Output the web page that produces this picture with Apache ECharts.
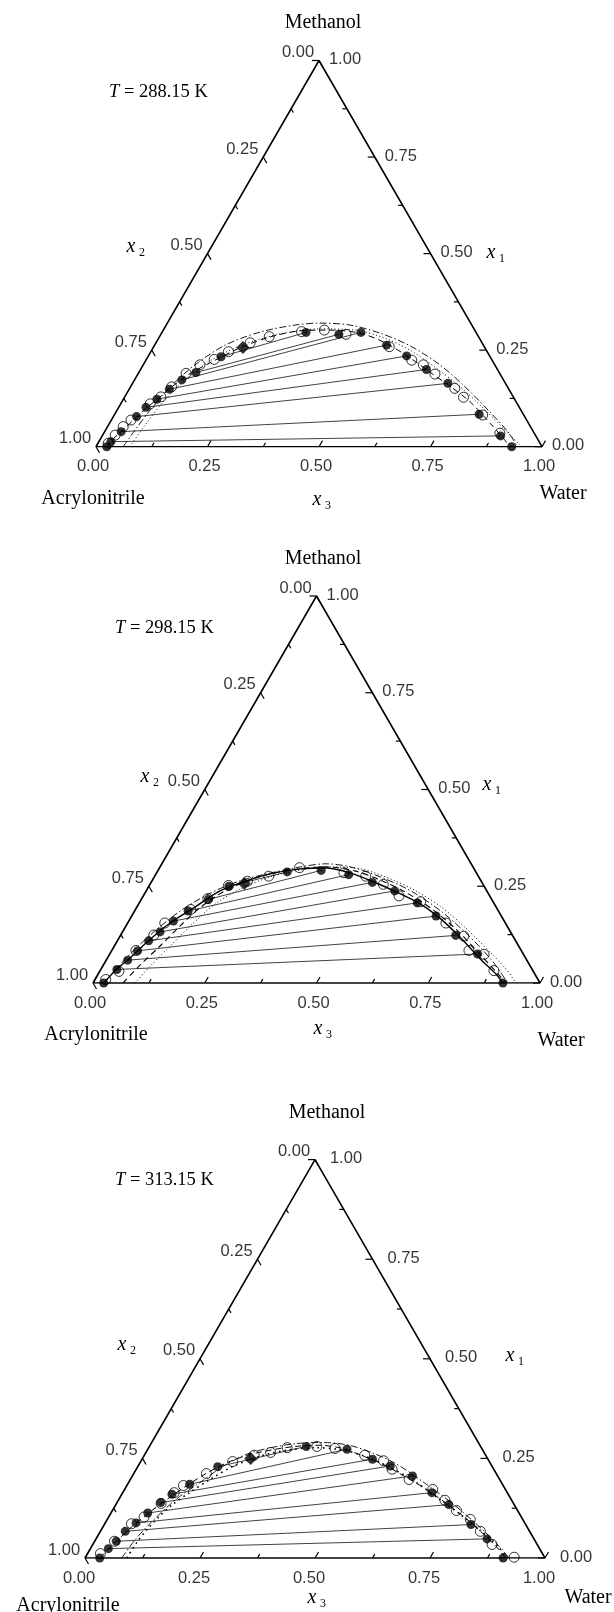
<!DOCTYPE html>
<html><head><meta charset="utf-8">
<script src="https://cdn.jsdelivr.net/npm/echarts@6.0.0/dist/echarts.min.js"></script>
<style>html,body{margin:0;padding:0;background:#fff}#c{width:614px;height:1612px}</style>
</head><body><div id="c"></div>
<script>
// ---- data: compositions as [x1 (methanol), x3 (water)], x2 = 1 - x1 - x3 ----
const tickValues = [0, 0.125, 0.25, 0.375, 0.5, 0.625, 0.75, 0.875, 1];
const labelValues = [0, 0.25, 0.5, 0.75, 1];
const tickLabels = ['0.00', '0.25', '0.50', '0.75', '1.00'];
const temperatures = ['288.15', '298.15', '313.15'];
const vertexNames = ['Methanol', 'Acrylonitrile', 'Water'];

// T = 288.15 K
const p1TieLeft = [[0,0.024],[0.013,0.027],[0.039,0.037],[0.078,0.052],[0.102,0.061],[0.123,0.075],[0.149,0.090],[0.173,0.106],[0.192,0.128],[0.233,0.164]];
const p1TieRight = [[0,0.932],[0.028,0.893],[0.084,0.817],[0.164,0.707],[0.200,0.641],[0.235,0.579],[0.263,0.520],[0.296,0.446],[0.291,0.399],[0.296,0.323]];
const p1Plait = [[0.257,0.201]];
const p1Calc = [[0.009,0.023],[0.030,0.028],[0.052,0.035],[0.069,0.044],[0.111,0.066],[0.129,0.081],[0.155,0.092],[0.190,0.107],[0.212,0.127],[0.226,0.152],[0.246,0.174],[0.269,0.211],[0.285,0.246],[0.298,0.312],[0.302,0.361],[0.291,0.415],[0.259,0.528],[0.224,0.596],[0.212,0.628],[0.188,0.666],[0.151,0.729],[0.128,0.760],[0.082,0.826],[0.035,0.888]];
const p1Dash = [[0,0.022],[0.017,0.027],[0.048,0.041],[0.085,0.056],[0.129,0.079],[0.181,0.109],[0.217,0.147],[0.256,0.195],[0.284,0.248],[0.300,0.307],[0.302,0.374],[0.294,0.445],[0.269,0.514],[0.230,0.589],[0.193,0.652],[0.157,0.715],[0.116,0.781],[0.061,0.853],[0.023,0.901],[0,0.928]];
const p1Dot = [[0,0.076],[0.056,0.082],[0.121,0.094],[0.183,0.119],[0.230,0.152],[0.266,0.201],[0.292,0.267],[0.305,0.350],[0.302,0.430],[0.281,0.507],[0.250,0.579],[0.206,0.657],[0.155,0.739],[0.095,0.825],[0.043,0.896],[0,0.955]];
const p1DashDot = [[0,0.061],[0.043,0.066],[0.095,0.074],[0.155,0.089],[0.212,0.116],[0.263,0.158],[0.297,0.220],[0.315,0.289],[0.320,0.342],[0.315,0.412],[0.294,0.490],[0.261,0.574],[0.212,0.665],[0.155,0.750],[0.090,0.838],[0.038,0.905],[0,0.945]];

// T = 298.15 K
const p2TieLeft = [[0,0.024],[0.035,0.036],[0.059,0.048],[0.083,0.058],[0.109,0.070],[0.132,0.084],[0.160,0.100],[0.186,0.120],[0.216,0.150],[0.250,0.179]];
const p2TieRight = [[0,0.917],[0.075,0.823],[0.123,0.750],[0.173,0.681],[0.207,0.622],[0.238,0.556],[0.260,0.495],[0.280,0.432],[0.291,0.365],[0.287,0.291]];
const p2Plait = [[0.257,0.210]];
const p2Calc = [[0.009,0.024],[0.030,0.043],[0.084,0.054],[0.124,0.074],[0.155,0.083],[0.190,0.124],[0.218,0.148],[0.252,0.177],[0.263,0.214],[0.276,0.255],[0.298,0.313],[0.285,0.419],[0.276,0.472],[0.255,0.522],[0.225,0.572],[0.210,0.628],[0.155,0.712],[0.121,0.769],[0.084,0.799],[0.074,0.838],[0.032,0.881]];
const p2Solid = [[0,0.024],[0.0355,0.035],[0.064,0.050],[0.108,0.069],[0.155,0.095],[0.196,0.130],[0.238,0.165],[0.263,0.209],[0.282,0.255],[0.295,0.317],[0.297,0.372],[0.284,0.434],[0.259,0.503],[0.230,0.573],[0.204,0.631],[0.165,0.696],[0.116,0.765],[0.061,0.837],[0.023,0.890],[0,0.917]];
const p2Dash = [[0,0.067],[0.046,0.082],[0.095,0.102],[0.147,0.121],[0.194,0.142],[0.238,0.176],[0.271,0.227],[0.292,0.295],[0.300,0.370],[0.289,0.443],[0.266,0.510],[0.235,0.581],[0.194,0.658],[0.140,0.741],[0.077,0.825],[0.030,0.886],[0,0.924]];
const p2Dot = [[0,0.094],[0.043,0.106],[0.095,0.125],[0.147,0.144],[0.204,0.171],[0.243,0.208],[0.274,0.259],[0.292,0.318],[0.300,0.381],[0.295,0.451],[0.269,0.531],[0.238,0.603],[0.197,0.680],[0.142,0.763],[0.077,0.852],[0.036,0.906],[0,0.946]];
const p2DashDot = [[0,0.024],[0.041,0.035],[0.087,0.050],[0.134,0.071],[0.186,0.102],[0.232,0.146],[0.264,0.197],[0.284,0.254],[0.300,0.314],[0.308,0.366],[0.300,0.426],[0.274,0.506],[0.238,0.592],[0.186,0.685],[0.129,0.770],[0.061,0.860],[0,0.928]];

// T = 313.15 K
const p3TieLeft = [[0,0.032],[0.0235,0.039],[0.042,0.047],[0.067,0.054],[0.088,0.067],[0.113,0.080],[0.139,0.095],[0.160,0.109],[0.185,0.135],[0.229,0.174]];
const p3TieRight = [[0,0.909],[0.048,0.850],[0.084,0.797],[0.134,0.724],[0.164,0.672],[0.206,0.609],[0.231,0.548],[0.248,0.501],[0.273,0.433],[0.280,0.341]];
const p3Plait = [[0.250,0.235]];
const p3Calc = [[0.011,0.028],[0.042,0.043],[0.086,0.058],[0.103,0.077],[0.137,0.097],[0.164,0.112],[0.182,0.123],[0.212,0.158],[0.242,0.200],[0.258,0.239],[0.265,0.271],[0.277,0.301],[0.280,0.364],[0.275,0.406],[0.258,0.479],[0.244,0.527],[0.223,0.556],[0.197,0.606],[0.172,0.670],[0.145,0.710],[0.119,0.748],[0.097,0.789],[0.067,0.826],[0.034,0.868],[0.002,0.932]];
const p3Dash = [[0,0.033],[0.021,0.039],[0.046,0.049],[0.078,0.062],[0.113,0.082],[0.145,0.103],[0.181,0.130],[0.213,0.158],[0.239,0.189],[0.258,0.224],[0.271,0.269],[0.280,0.316],[0.283,0.367],[0.275,0.423],[0.256,0.476],[0.235,0.531],[0.206,0.590],[0.176,0.649],[0.140,0.712],[0.101,0.776],[0.063,0.832],[0.029,0.879],[0,0.915]];
const p3DashDot = [[0,0.080],[0.046,0.086],[0.092,0.100],[0.147,0.124],[0.189,0.155],[0.231,0.186],[0.261,0.222],[0.277,0.266],[0.287,0.313],[0.290,0.371],[0.283,0.433],[0.263,0.495],[0.235,0.561],[0.189,0.643],[0.139,0.727],[0.080,0.816],[0.029,0.886],[0,0.922]];
const p3Dot = [[0,0.091],[0.038,0.093],[0.071,0.099],[0.103,0.109],[0.134,0.123],[0.164,0.145],[0.197,0.173],[0.231,0.208],[0.256,0.254],[0.271,0.306],[0.277,0.362],[0.271,0.424],[0.254,0.485],[0.227,0.550],[0.193,0.619],[0.151,0.691],[0.107,0.765],[0.065,0.831],[0.025,0.888],[0,0.919]];

// ---- layout / style ----
const H = Math.sqrt(3) / 2;
const SERIF = '"Liberation Serif","Times New Roman",serif';
const SANS = '"Liberation Sans",Arial,sans-serif';
const DASH = [6, 4], DOT = [1, 2.5], DASHDOT = [7, 2.5, 1.5, 2.5], BIGDOT = [1.6, 4];

const panels = [
  { grid: {left: 96, top: 60.5, width: 446, height: 386.2}, temp: temperatures[0],
    tieL: p1TieLeft, tieR: p1TieRight, plait: p1Plait, calc: p1Calc,
    curves: [{d: p1DashDot, t: DASHDOT, w: 0.9}, {d: p1Dot, t: DOT, w: 1}, {d: p1Dash, t: DASH, w: 1}],
    rightOff: 26, bottomOff: -3,
    txt: {meth: [323, 23], T: [109, 92], x2: [131, 247], x1: [491, 253], acr: [93, 499], x3: [317, 500], wat: [563, 494]} },
  { grid: {left: 93, top: 596, width: 447, height: 387}, temp: temperatures[1],
    tieL: p2TieLeft, tieR: p2TieRight, plait: p2Plait, calc: p2Calc,
    curves: [{d: p2DashDot, t: DASHDOT, w: 0.9}, {d: p2Dot, t: DOT, w: 1}, {d: p2Dash, t: DASH, w: 1.1}, {d: p2Solid, t: 'solid', w: 1.4}],
    rightOff: 26, bottomOff: -3,
    txt: {meth: [323, 559], T: [115, 628], x2: [145, 777], x1: [487, 785], acr: [96, 1035], x3: [318, 1029], wat: [561, 1041]} },
  { grid: {left: 85, top: 1159.6, width: 460, height: 398.4}, temp: temperatures[2],
    tieL: p3TieLeft, tieR: p3TieRight, plait: p3Plait, calc: p3Calc,
    curves: [{d: p3DashDot, t: DASHDOT, w: 0.9}, {d: p3Dot, t: BIGDOT, w: 1.6}, {d: p3Dash, t: DASH, w: 1}],
    rightOff: 31, bottomOff: -6,
    txt: {meth: [327, 1113], T: [115, 1180], x2: [122, 1345], x1: [510, 1356], acr: [68, 1606], x3: [312, 1598], wat: [588, 1598]} }
];

function xy(c) { return [c[1] + c[0] / 2, c[0] * H]; }

const option = {
  animation: false,
  backgroundColor: '#fff',
  grid: [], xAxis: [], yAxis: [], series: [], graphic: []
};

panels.forEach(function (p, i) {
  option.grid.push(Object.assign({containLabel: false, outerBoundsMode: 'none'}, p.grid));
  option.xAxis.push({type: 'value', gridIndex: i, min: 0, max: 1, show: false});
  option.yAxis.push({type: 'value', gridIndex: i, min: 0, max: H, show: false});
  const ax = {xAxisIndex: i, yAxisIndex: i};

  // frame
  option.series.push(Object.assign({type: 'line', data: [[0, 0], [1, 0], [0.5, H], [0, 0]], symbol: 'none', silent: true,
    lineStyle: {color: '#000', width: 1.6}, z: 5}, ax));

  // ticks (inward, along grid directions)
  const tickData = [];
  [0, 1, 2].forEach(function (a) { tickValues.forEach(function (v) { tickData.push([a, v]); }); });
  option.series.push(Object.assign({type: 'custom', data: tickData, clip: false, silent: true, z: 5,
    renderItem: function (params, api) {
      const a = api.value(0), v = api.value(1);
      let pt, d;
      if (a === 0) { pt = [v, 0]; d = [0.5, -0.866]; }
      else if (a === 1) { pt = [(1 - v) / 2, (1 - v) * H]; d = [0.5, 0.866]; }
      else { pt = [1 - v / 2, v * H]; d = [-1, 0]; }
      const c = api.coord(pt);
      const major = Math.abs(v * 4 - Math.round(v * 4)) < 1e-6;
      const L = major ? 7 : 4.5;
      return {type: 'line', shape: {x1: c[0], y1: c[1], x2: c[0] + d[0] * L, y2: c[1] + d[1] * L},
        style: {stroke: '#000', lineWidth: 1.2}};
    }}, ax));

  // tick labels
  const lblStyle = {show: true, position: 'inside', color: '#000', fontFamily: SANS, fontSize: 16.5};
  const axisDefs = [
    {pos: function (v) { return [v, 0]; }, off: [p.bottomOff, 20]},
    {pos: function (v) { return [(1 - v) / 2, (1 - v) * H]; }, off: [-21, -8]},
    {pos: function (v) { return [1 - v / 2, v * H]; }, off: [p.rightOff, -1]}
  ];
  axisDefs.forEach(function (def) {
    option.series.push(Object.assign({type: 'scatter', symbolSize: 1, silent: true, itemStyle: {color: 'rgba(0,0,0,0)'},
      data: labelValues.map(function (v, k) {
        return {value: def.pos(v), label: Object.assign({}, lblStyle, {offset: def.off, formatter: tickLabels[k]})};
      }), z: 6}, ax));
  });

  // tie lines
  option.series.push(Object.assign({type: 'lines', coordinateSystem: 'cartesian2d', silent: true, z: 2,
    lineStyle: {color: '#111', width: 0.8, opacity: 1},
    data: p.tieL.map(function (l, k) { return {coords: [xy(l), xy(p.tieR[k])]}; })}, ax));

  // model curves
  p.curves.forEach(function (c) {
    option.series.push(Object.assign({type: 'line', data: c.d.map(xy), smooth: 0.3, symbol: 'none', silent: true, z: 3,
      lineStyle: {color: '#000', width: c.w, type: c.t}}, ax));
  });

  // calculated (open circles)
  option.series.push(Object.assign({type: 'scatter', data: p.calc.map(xy), symbol: 'circle', symbolSize: 10, silent: true, z: 4,
    itemStyle: {color: 'rgba(255,255,255,0)', borderColor: '#000', borderWidth: 1}}, ax));
  // experimental (filled circles)
  option.series.push(Object.assign({type: 'scatter', data: p.tieL.concat(p.tieR).map(xy), symbol: 'circle', symbolSize: 9, silent: true, z: 7,
    itemStyle: {color: '#000'}}, ax));
  // plait point
  option.series.push(Object.assign({type: 'scatter', data: p.plait.map(xy), symbol: 'diamond', symbolSize: 13, silent: true, z: 7,
    itemStyle: {color: '#000'}}, ax));

  // texts
  const t = p.txt;
  const txt = function (s, pos, font, align) {
    option.graphic.push({type: 'text', x: pos[0], y: pos[1], silent: true,
      style: {text: s, font: font, fill: '#000', textAlign: align || 'center', textVerticalAlign: 'middle'}});
  };
  txt(vertexNames[0], t.meth, '20px ' + SERIF);
  txt(vertexNames[1], t.acr, '20px ' + SERIF);
  txt(vertexNames[2], t.wat, '20px ' + SERIF);
  option.graphic.push({type: 'text', x: t.T[0], y: t.T[1], silent: true,
    style: {text: '{i|T} = ' + p.temp + ' K', font: '18.5px ' + SERIF, fill: '#000', textVerticalAlign: 'middle',
      rich: {i: {fontStyle: 'italic', fontFamily: SERIF, fontSize: 18.5}}}});
  [['x2', '2'], ['x1', '1'], ['x3', '3']].forEach(function (q) {
    const pos = t[q[0]];
    txt('x', pos, 'italic 20px ' + SERIF);
    txt(q[1], [pos[0] + 8, pos[1] + 6], '12px ' + SERIF, 'left');
  });
});

const chart = echarts.init(document.getElementById('c'), null, {renderer: 'canvas'});
chart.setOption(option);
</script>
</body></html>
